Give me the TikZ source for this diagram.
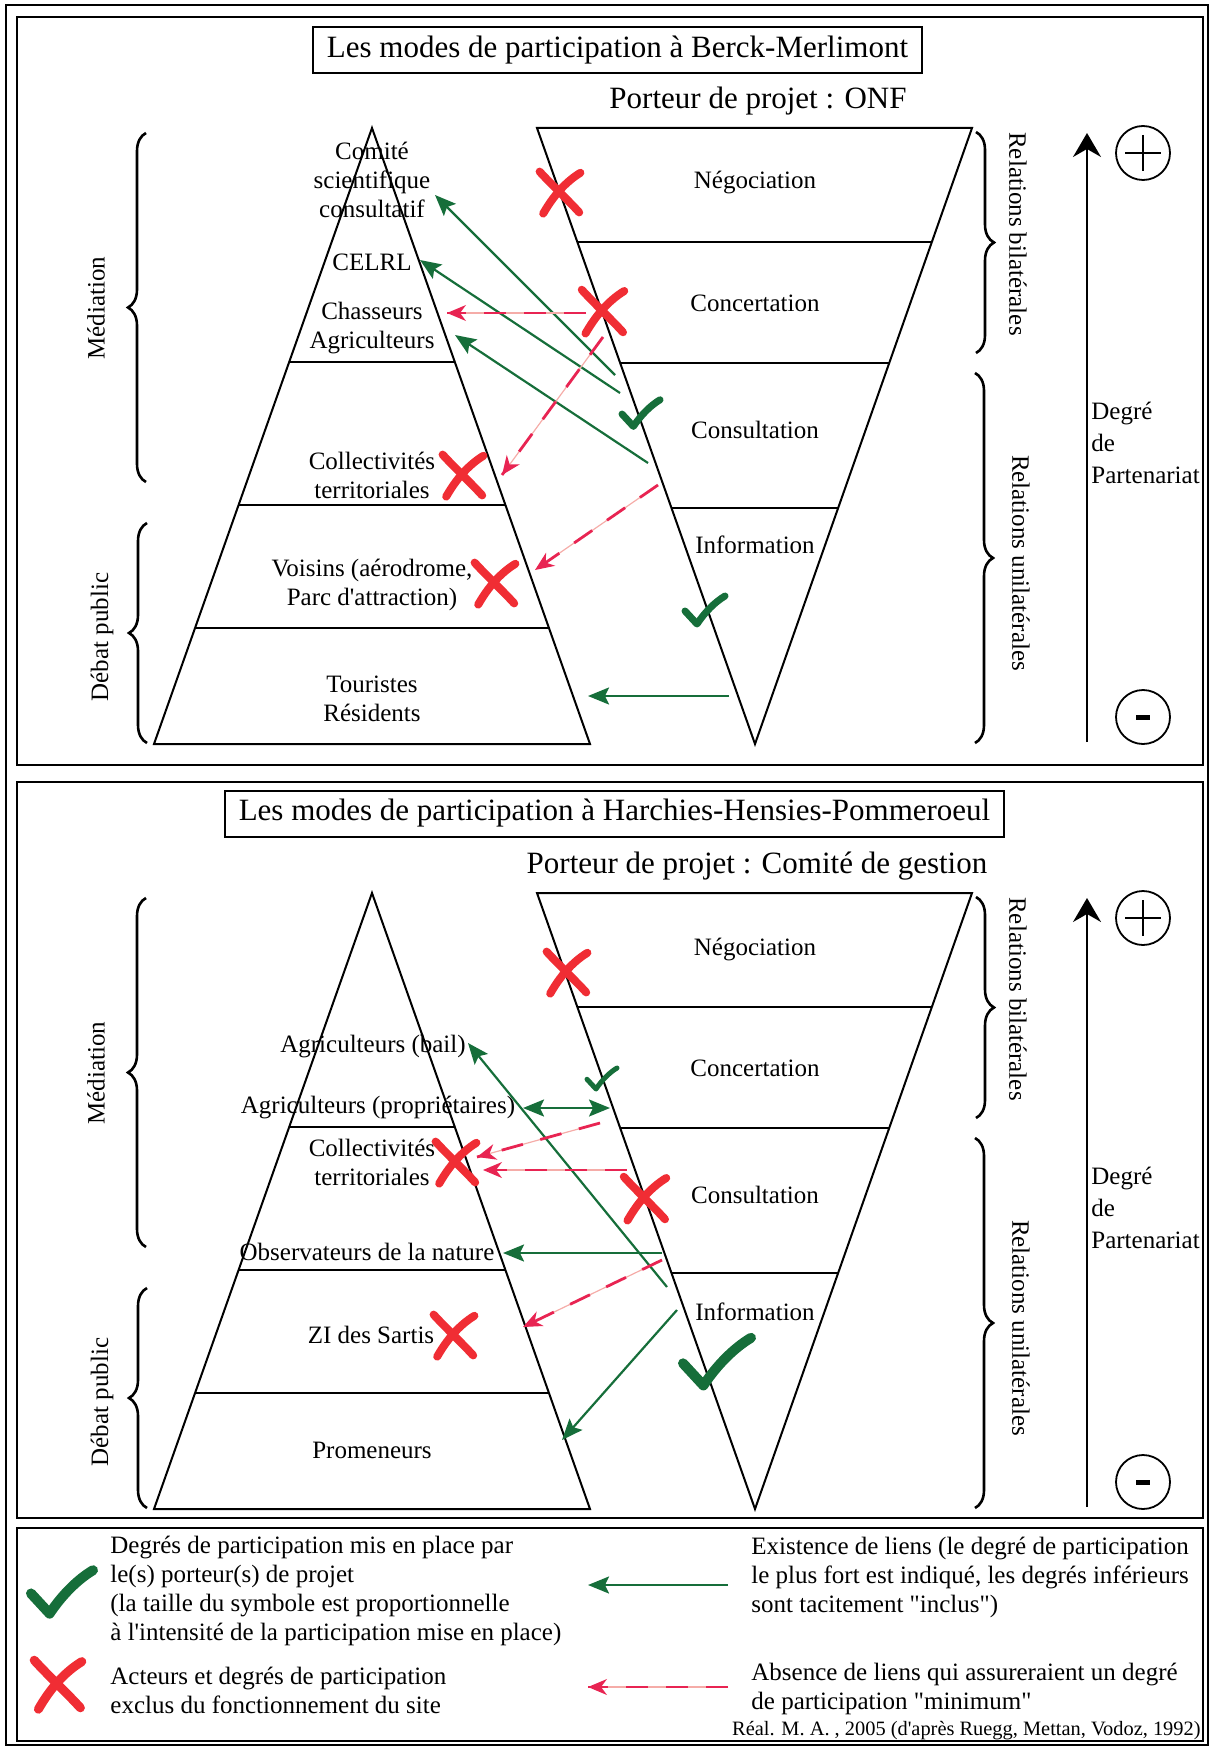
\documentclass[tikz,border=0pt]{standalone}
\usepackage{fontspec}
\setmainfont{Liberation Serif}
\usetikzlibrary{arrows.meta,calc,decorations.pathreplacing}

\definecolor{vert}{RGB}{22,110,58}
\definecolor{rouge}{RGB}{240,45,52}
\definecolor{rose}{RGB}{232,36,82}
\definecolor{roseclair}{RGB}{245,172,168}

\tikzset{
  trait/.style={line width=1pt},
  cadre/.style={line width=1.2pt},
  lbl/.style={font=\fontsize{12.5}{14.5}\selectfont, align=center, inner sep=0pt},
  porteur/.style={font=\fontsize{15.5}{18}\selectfont, inner sep=0pt},
  titre/.style={draw, line width=1pt, font=\fontsize{15.5}{18}\selectfont, minimum height=23pt, inner xsep=7pt},
  deg/.style={font=\fontsize{12.5}{16}\selectfont, align=left, inner sep=0pt, anchor=west},
  legende/.style={font=\fontsize{12.5}{14.5}\selectfont, align=left, inner sep=0pt, anchor=west},
  pointe/.tip={Stealth[length=10.5pt,width=8.5pt,inset=2pt]},
  lien/.style={draw=vert, line width=1.1pt, -pointe},
  nolien/.style={draw=roseclair, line width=0.6pt, -{Stealth[length=9.5pt,width=8pt,inset=3pt,color=rose]},
    postaction={draw=rose, line width=1.4pt, dash pattern=on 11pt off 9pt, -}},
  accolade/.style={decorate, decoration={brace, amplitude=9pt}, line width=1.3pt},
  axe/.style={line width=1pt, -{Stealth[length=12pt,width=14pt,inset=4pt,line width=1pt]}},
  ok/.style={vert, line width=#1},
  ko/.style={rouge, line width=4pt},
  coche/.pic={\draw[line cap=round, line join=round] (-20,-1) -- (-8,12) .. controls (0,0) and (10,-10) .. (20,-16);},
  croix/.pic={\draw[line cap=round] (-17,-17) .. controls (-6,-5) and (6,6) .. (16,17);
    \draw[line cap=round] (17,-16) .. controls (4,-8) and (-6,4) .. (-14,18);},
}

\begin{document}
\begin{tikzpicture}[x=0.5pt, y=-0.5pt]
\useasboundingbox (0,0) rectangle (1212,1749);

% cadres
\draw[cadre] (6,5) rectangle (1208,1745);
\draw[cadre] (17,17) rectangle (1203,765);
\draw[cadre] (17,782) rectangle (1203,1518);
\draw[cadre] (17,1528) rectangle (1203,1741);

% pyramide, entonnoir, accolades et axe : identiques dans les deux panneaux
\foreach \dy in {0,765} {
  \begin{scope}[shift={(0,\dy)}]
    \coordinate (pA) at (372,128);
    \coordinate (pL) at (154,744);
    \coordinate (pR) at (590,744);
    \draw[trait] (pA) -- (pL) -- (pR) -- cycle;
    \foreach \f in {0.380,0.612,0.812}
      \draw[trait] ($(pA)!\f!(pL)$) -- ($(pA)!\f!(pR)$);
    \coordinate (iL) at (537,128);
    \coordinate (iR) at (972,128);
    \coordinate (iA) at (755,744);
    \draw[trait] (iL) -- (iR) -- (iA) -- cycle;
    \foreach \f in {0.383,0.6185,0.815}
      \draw[trait] ($(iA)!\f!(iL)$) -- ($(iA)!\f!(iR)$);
    % accolades
    \draw[accolade] (146,482) -- (146,133);
    \draw[accolade] (147,743) -- (147,523);
    \draw[accolade] (976,132) -- (976,353);
    \draw[accolade] (975,373) -- (975,743);
    \node[lbl, rotate=90] (med\dy) at (96,308) {Médiation};
    \node[lbl, rotate=90] (debat\dy) at (102,637) {Débat public};
    \node[lbl, rotate=-90] (bilat\dy) at (1018,234) {Relations bilatérales};
    \node[lbl, rotate=-90] (unilat\dy) at (1021,563) {Relations unilatérales};
    % axe du partenariat
    \coordinate (bas\dy) at (1087,742);
    \coordinate (haut\dy) at (1087,133);
    \draw[axe] (bas\dy) -- (haut\dy);
    \node[draw, circle, minimum size=27pt, inner sep=0pt, line width=0.9pt] (plus\dy) at (1143,153) {};
    \draw[line width=0.8pt] ($(plus\dy)+(-18,0)$) -- ($(plus\dy)+(18,0)$);
    \draw[line width=0.8pt] ($(plus\dy)+(0,-18)$) -- ($(plus\dy)+(0,18)$);
    \node[draw, circle, minimum size=27pt, inner sep=0pt, line width=0.9pt] (moins\dy) at (1143,717) {};
    \draw[line width=2.5pt] ($(moins\dy)+(-7,0)$) -- ($(moins\dy)+(7,0)$);
    \node[deg] (part\dy) at (1091,443) {Degré\\de\\Partenariat};
  \end{scope}
}

% panneau Berck-Merlimont
\node[titre] (titre1) at (617.5,50) {Les modes de participation à Berck-Merlimont};
\node[porteur] (onf) at (758,101) {Porteur de projet : ONF};
\node[lbl] (comite) at (372,180) {Comité\\scientifique\\consultatif};
\node[lbl] (celrl) at (372,262) {CELRL};
\node[lbl] (chasseurs) at (372,328) {Chasseurs\\Agriculteurs};
\node[lbl] (collect) at (372,475) {Collectivités\\territoriales};
\node[lbl] (voisins) at (372,585) {Voisins (aérodrome,\\Parc d\textquotesingle attraction)};
\node[lbl] (touristes) at (372,699) {Touristes\\Résidents};
\node[lbl] (nego) at (755,183) {Négociation};
\node[lbl] (concert) at (755,303) {Concertation};
\node[lbl] (consult) at (755,430) {Consultation};
\node[lbl] (info) at (755,545) {Information};

\coordinate (cs1) at (615,375);  \coordinate (vcomite) at (435,195);
\coordinate (cs2) at (620,393);  \coordinate (vcelrl) at (420,260);
\coordinate (cs3) at (648,463);  \coordinate (vagri) at (455,335);
\coordinate (in1) at (729,696);  \coordinate (vtour) at (588,696);
\coordinate (cc1) at (586,313);  \coordinate (vchass) at (447,313);
\coordinate (cc2) at (603,337);  \coordinate (vcoll) at (502,475);
\coordinate (cs4) at (658,485);  \coordinate (vvois) at (535,570);
\draw[lien] (cs1) -- (vcomite);
\draw[lien] (cs2) -- (vcelrl);
\draw[lien] (cs3) -- (vagri);
\draw[lien] (in1) -- (vtour);
\draw[nolien] (cc1) -- (vchass);
\draw[nolien] (cc2) -- (vcoll);
\draw[nolien] (cs4) -- (vvois);

\pic[ko, scale=1.2] (x1) at (560,192) {croix};
\pic[ko, scale=1.25] (x2) at (603,311) {croix};
\pic[ko, scale=1.2] (x3) at (463,475) {croix};
\pic[ko, scale=1.2] (x4) at (495,583) {croix};
\pic[ok=3.5pt, scale=0.95] (v1) at (641,415) {coche};
\pic[ok=3.5pt, scale=1] (v2) at (705,612) {coche};

% panneau Harchies-Hensies-Pommeroeul
\node[titre] (titre2) at (614.5,813.5) {Les modes de participation à Harchies-Hensies-Pommeroeul};
\node[porteur] (gestion) at (757,866) {Porteur de projet : Comité de gestion};
\node[lbl] (bail) at (373,1047) {Agriculteurs (bail)};
\node[lbl] (proprio) at (378,1107) {Agriculteurs (propriétaires)};
\node[lbl] (collect2) at (372,1162) {Collectivités\\territoriales};
\node[lbl] (observ) at (367,1252) {Observateurs de la nature};
\node[lbl] (zi) at (371,1335) {ZI des Sartis};
\node[lbl] (promen) at (372,1450) {Promeneurs};
\node[lbl] (nego2) at (755,949) {Négociation};
\node[lbl] (concert2) at (755,1068) {Concertation};
\node[lbl] (consult2) at (755,1195) {Consultation};
\node[lbl] (info2) at (755,1312) {Information};

\coordinate (in2) at (667,1287);  \coordinate (vbail) at (468,1043);
\coordinate (cc3) at (610,1108);  \coordinate (vprop) at (523,1108);
\coordinate (cs5) at (662,1253);  \coordinate (vobs) at (503,1253);
\coordinate (in3) at (677,1310);  \coordinate (vprom) at (562,1440);
\coordinate (cc4) at (600,1123);  \coordinate (vcoll2) at (477,1157);
\coordinate (cs6) at (627,1170);  \coordinate (vcoll3) at (483,1170);
\coordinate (cs7) at (662,1260);  \coordinate (vzi) at (523,1327);
\draw[lien] (in2) -- (vbail);
\draw[lien, pointe-pointe] (vprop) -- (cc3);
\draw[lien] (cs5) -- (vobs);
\draw[lien] (in3) -- (vprom);
\draw[nolien] (cc4) -- (vcoll2);
\draw[nolien] (cs6) -- (vcoll3);
\draw[nolien] (cs7) -- (vzi);

\pic[ko, scale=1.2] (x5) at (567,972) {croix};
\pic[ko, scale=1.2] (x6) at (456,1162) {croix};
\pic[ko, scale=1.25] (x7) at (645,1198) {croix};
\pic[ko, scale=1.2] (x8) at (454,1335) {croix};
\pic[ok=2.5pt, scale=0.75] (v3) at (602,1080) {coche};
\pic[ok=5pt, scale=1.7] (v4) at (717,1365) {coche};

% legende
\pic[ok=5pt, scale=1.55] (v5) at (62,1595) {coche};
\pic[ko, line width=4.5pt, scale=1.4] (x9) at (58,1684) {croix};
\node[legende] (leg1) at (110,1591) {Degrés de participation mis en place par\\le(s) porteur(s) de projet\\(la taille du symbole est proportionnelle\\à l\textquotesingle intensité de la participation mise en place)};
\node[legende] (leg2) at (110,1690) {Acteurs et degrés de participation\\exclus du fonctionnement du site};
\coordinate (lg1) at (728,1585);  \coordinate (lg1b) at (588,1585);
\coordinate (lg2) at (728,1687);  \coordinate (lg2b) at (588,1687);
\draw[lien] (lg1) -- (lg1b);
\draw[nolien] (lg2) -- (lg2b);
\node[legende] (leg3) at (751,1577) {Existence de liens (le degré de participation\\le plus fort est indiqué, les degrés inférieurs\\sont tacitement \textquotedbl inclus\textquotedbl)};
\node[legende] (leg4) at (751,1689) {Absence de liens qui assureraient un degré\\de participation \textquotedbl minimum\textquotedbl};
\node[font=\fontsize{10.2}{12}\selectfont, inner sep=0pt, anchor=east] (real) at (1201,1731) {Réal. M. A. , 2005 (d\textquotesingle après Ruegg, Mettan, Vodoz, 1992)};
\end{tikzpicture}
\end{document}
